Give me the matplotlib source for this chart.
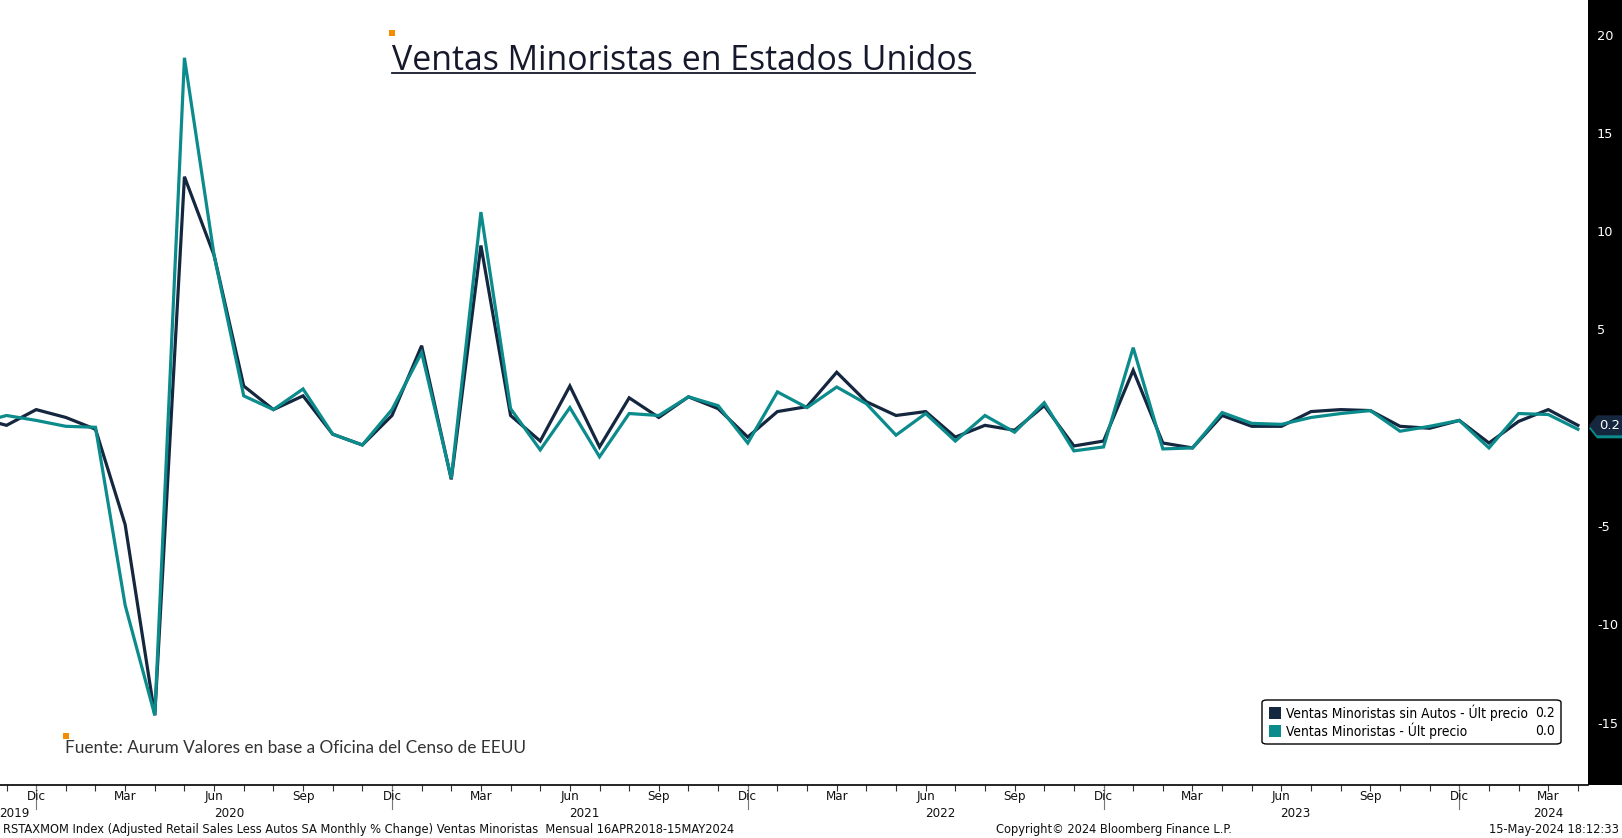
import numpy as np
import pandas as pd
import matplotlib
matplotlib.use("Agg")
import matplotlib.pyplot as plt
from matplotlib.patches import Rectangle, Polygon, FancyBboxPatch
from matplotlib.lines import Line2D
import matplotlib.transforms as mtransforms

# ---------------- data ----------------
months = pd.date_range("2019-10-01", "2024-04-01", freq="MS")
ex_autos = [0.6, 0.2, 1.0, 0.6, 0.0, -4.85, -14.55, 12.85, 8.85, 2.2,
            1.0, 1.7, -0.25, -0.8, 0.7, 4.25, -2.55, 9.35, 0.7, -0.6,
            2.2, -0.9, 1.6, 0.6, 1.65, 1.05, -0.4, 0.9, 1.15, 2.9,
            1.4, 0.7, 0.9, -0.4, 0.2, -0.05, 1.2, -0.85, -0.6, 3.0,
            -0.7, -0.95, 0.7, 0.15, 0.15, 0.9, 1.0, 0.95, 0.15, 0.05,
            0.45, -0.7, 0.4, 1.0, 0.2]
total = [0.3, 0.7, 0.45, 0.15, 0.1, -8.95, -14.55, 18.9, 8.85, 1.7,
         1.0, 2.05, -0.25, -0.8, 1.0, 3.9, -2.5, 11.05, 1.05, -1.05,
         1.1, -1.4, 0.8, 0.7, 1.65, 1.2, -0.7, 1.9, 1.1, 2.15,
         1.3, -0.3, 0.8, -0.6, 0.7, -0.15, 1.35, -1.1, -0.9, 4.15,
         -1.0, -0.95, 0.85, 0.3, 0.25, 0.6, 0.8, 0.95, -0.1, 0.15,
         0.45, -0.95, 0.8, 0.75, 0.0]
month_abbr = {12: "Dic", 3: "Mar", 6: "Jun", 9: "Sep"}
right_ticks = [20, 15, 10, 5, -5, -10, -15]
year_labels = ["2019", "2020", "2021", "2022", "2023", "2024"]
year_pos = ["2019-11-08", "2020-06-16", "2021-06-16", "2022-06-16", "2023-06-16", "2024-03-01"]
last_ex, last_tot = 0.2, 0.0

DARK = "#15263f"
TEAL = "#0b8b8b"

W, H = 1622, 838
fig = plt.figure(figsize=(W / 100, H / 100), dpi=100)
fig.patch.set_facecolor("white")

def fx(px):
    return px / W

def fy(py):
    return 1 - py / H

ax_left, ax_right, ax_top, ax_bottom = 0, 1588, 0, 785
ax = fig.add_axes([fx(ax_left), fy(ax_bottom), fx(ax_right - ax_left), (ax_bottom - ax_top) / H])

x = np.arange(len(months))
ax.plot(x, ex_autos, color=DARK, lw=2.3, solid_joinstyle="miter", zorder=3)
ax.plot(x, total, color=TEAL, lw=2.3, solid_joinstyle="miter", zorder=4)

for s in ["top", "left", "right"]:
    ax.spines[s].set_visible(False)
ax.spines["bottom"].set_color("black")
ax.spines["bottom"].set_linewidth(1.2)
ax.set_yticks([])

ax.set_xticks(x)
ax.set_xticklabels([])
ax.tick_params(axis="x", direction="out", length=4, width=0.8, color="#333333")

i_dec = 2  # index of Dec 2019
ax.set_xlim(i_dec - 1.221, i_dec + 52.34)
ax.set_ylim(-18.1, 21.84)

trans = mtransforms.blended_transform_factory(ax.transData, ax.transAxes)
lab_font = dict(family="DejaVu Sans", stretch="condensed", fontsize=9.5, color="#111111")
for i, d in enumerate(months):
    if d.month in month_abbr:
        ax.text(i, -(796 - ax_bottom) / (ax_bottom - ax_top), month_abbr[d.month],
                transform=trans, ha="center", va="center", **lab_font)
    if d.month == 12:
        ax.add_line(Line2D([i, i], [0, -(809 - ax_bottom) / (ax_bottom - ax_top)],
                           transform=trans, color="#777777", lw=0.8, clip_on=False))
for lab, pos in zip(year_labels, year_pos):
    xi = (pd.Timestamp(pos) - months[0]).days / 30.44
    ax.text(xi, -(813 - ax_bottom) / (ax_bottom - ax_top), lab,
            transform=trans, ha="center", va="center", **lab_font)

# right black panel with tick labels
fig.patches.append(Rectangle((fx(1588), fy(785)), fx(W - 1588), 785 / H,
                             transform=fig.transFigure, facecolor="black", edgecolor="none", zorder=0))
ymin, ymax = ax.get_ylim()
def val_to_py(v):
    return ax_bottom - (v - ymin) / (ymax - ymin) * (ax_bottom - ax_top)
for v in right_ticks:
    fig.text(fx(1597), fy(val_to_py(v)), str(v), color="white", ha="left", va="center",
             family="DejaVu Sans", fontsize=9.3)

# last value tags
py = val_to_py(last_ex)
for dy, col in [(3, TEAL), (0, DARK)]:
    pts = [(1589, py + dy), (1597, py - 10 + dy), (1622, py - 10 + dy), (1622, py + 10 + dy), (1597, py + 10 + dy)]
    fig.patches.append(Polygon([(fx(a), fy(b)) for a, b in pts], closed=True,
                               transform=fig.transFigure, facecolor=col, edgecolor="none", zorder=5))
fig.text(fx(1599), fy(py), f"{last_ex:.1f}", color="white", ha="left", va="center",
         family="DejaVu Sans", fontsize=9.5, zorder=6)

# title
fig.patches.append(Rectangle((fx(389), fy(36)), fx(6), 6 / H, transform=fig.transFigure,
                             facecolor="#f28c00", edgecolor="none"))
fig.text(fx(392), fy(61), "Ventas Minoristas en Estados Unidos", family="Open Sans",
         fontsize=24.4, color="#16192b", ha="left", va="center")
fig.add_artist(Line2D([fx(392), fx(975)], [fy(73.5), fy(73.5)], transform=fig.transFigure,
                      color="#16192b", lw=1.3))

# source
fig.patches.append(Rectangle((fx(63), fy(739)), fx(6), 6 / H, transform=fig.transFigure,
                             facecolor="#f28c00", edgecolor="none"))
fig.text(fx(65), fy(748), "Fuente: Aurum Valores en base a Oficina del Censo de EEUU", family="Lato",
         fontsize=12.4, color="#333333", ha="left", va="center")

# legend
fig.patches.append(FancyBboxPatch((fx(1262), fy(744)), fx(299), 44 / H,
                                  boxstyle="round,pad=0,rounding_size=0.003",
                                  transform=fig.transFigure, facecolor="white",
                                  edgecolor="black", lw=1.0, zorder=5))
leg_rows = [("Ventas Minoristas sin Autos - Últ precio", last_ex, DARK, 713),
            ("Ventas Minoristas - Últ precio", last_tot, TEAL, 731)]
for txt, v, col, yy in leg_rows:
    fig.patches.append(Rectangle((fx(1269), fy(yy + 6)), fx(12), 12 / H, transform=fig.transFigure,
                                 facecolor=col, edgecolor="none", zorder=6))
    fig.text(fx(1286), fy(yy), txt, family="DejaVu Sans", stretch="condensed", fontsize=9.9,
             color="black", ha="left", va="center", zorder=7)
    fig.text(fx(1555), fy(yy), f"{v:.1f}", family="DejaVu Sans", stretch="condensed", fontsize=9.9,
             color="black", ha="right", va="center", zorder=7)

# footer
foot = dict(family="DejaVu Sans", stretch="condensed", fontsize=9.2, color="#111111", va="center")
fig.text(fx(3), fy(829),
         "RSTAXMOM Index (Adjusted Retail Sales Less Autos SA Monthly % Change) Ventas Minoristas  Mensual 16APR2018-15MAY2024",
         ha="left", **foot)
fig.text(fx(1114), fy(829), "Copyright© 2024 Bloomberg Finance L.P.", ha="center", **foot)
fig.text(fx(1619), fy(829), "15-May-2024 18:12:33", ha="right", **foot)

fig.savefig("out.png", dpi=100)
